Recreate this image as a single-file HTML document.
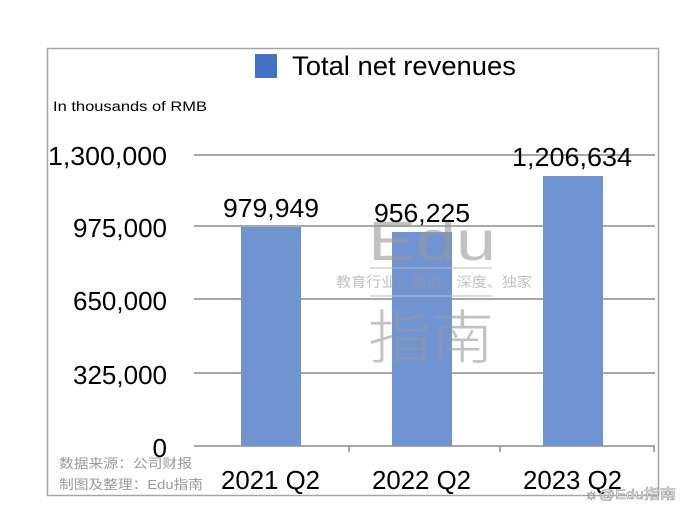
<!DOCTYPE html>
<html><head><meta charset="utf-8"><style>
html,body{margin:0;padding:0;background:#fff;width:692px;height:522px;overflow:hidden}
svg{display:block}
.n{font-family:"Liberation Sans",sans-serif;fill:#000}
.c{font-family:"Liberation Sans","Noto Sans CJK SC",sans-serif}
</style></head><body>
<svg width="692" height="522" viewBox="0 0 692 522">
<rect x="47.5" y="48.5" width="611" height="447" fill="#fff" stroke="#a6a6a6" stroke-width="1.5"/>
<!-- legend -->
<rect x="255" y="54" width="22" height="24" fill="#4472c4"/>
<text class="n" x="292" y="75" font-size="27" textLength="224" lengthAdjust="spacingAndGlyphs">Total net revenues</text>
<text class="n" x="53" y="111" font-size="14" textLength="154" lengthAdjust="spacingAndGlyphs">In thousands of RMB</text>
<!-- gridlines -->
<g stroke="#8c8c8c" stroke-width="1.5">
<line x1="194" y1="155" x2="655" y2="155"/>
<line x1="194" y1="226" x2="655" y2="226"/>
<line x1="194" y1="299" x2="655" y2="299"/>
<line x1="194" y1="373" x2="655" y2="373"/>
<line x1="194" y1="446" x2="655" y2="446"/>
<line x1="349" y1="446" x2="349" y2="452"/>
<line x1="500" y1="446" x2="500" y2="452"/>
<line x1="654" y1="446" x2="654" y2="452"/>
</g>
<!-- bars -->
<g fill="#7094d1">
<rect x="241" y="227" width="60" height="219"/>
<rect x="392" y="232" width="60" height="214"/>
<rect x="543" y="176" width="60" height="270"/>
</g>
<!-- watermark -->
<g fill="#999" opacity="0.6">
<text class="c" x="368" y="260" font-size="56" textLength="128" lengthAdjust="spacingAndGlyphs" font-weight="300">Edu</text>
<text class="c" x="336" y="287" font-size="14" textLength="196" lengthAdjust="spacingAndGlyphs">教育行业，前沿、深度、独家</text>
<text class="c" x="368" y="358" font-size="58" textLength="126" lengthAdjust="spacingAndGlyphs" font-weight="300">指南</text>
</g>
<g stroke="#bbb" stroke-width="1"><line x1="370" y1="268" x2="492" y2="268"/><line x1="370" y1="296" x2="492" y2="296"/></g>
<!-- y labels -->
<g class="n" font-size="26" text-anchor="end">
<text x="167" y="165" textLength="119" lengthAdjust="spacingAndGlyphs">1,300,000</text>
<text x="167" y="237" textLength="94" lengthAdjust="spacingAndGlyphs">975,000</text>
<text x="167" y="310" textLength="94" lengthAdjust="spacingAndGlyphs">650,000</text>
<text x="167" y="384" textLength="94" lengthAdjust="spacingAndGlyphs">325,000</text>
<text x="167" y="457">0</text>
</g>
<!-- value labels -->
<g class="n" font-size="26">
<text x="223" y="217" textLength="96" lengthAdjust="spacingAndGlyphs">979,949</text>
<text x="374" y="222" textLength="96" lengthAdjust="spacingAndGlyphs">956,225</text>
<text x="512" y="166" textLength="120" lengthAdjust="spacingAndGlyphs">1,206,634</text>
</g>
<!-- x labels -->
<g class="n" font-size="26">
<text x="221" y="489" textLength="99" lengthAdjust="spacingAndGlyphs">2021 Q2</text>
<text x="372" y="489" textLength="99" lengthAdjust="spacingAndGlyphs">2022 Q2</text>
<text x="523" y="489" textLength="99" lengthAdjust="spacingAndGlyphs">2023 Q2</text>
</g>
<!-- source -->
<g class="c" fill="#999" font-size="13">
<text x="59" y="468" textLength="133" lengthAdjust="spacingAndGlyphs">数据来源：公司财报</text>
<text x="59" y="489" textLength="144" lengthAdjust="spacingAndGlyphs">制图及整理：Edu指南</text>
</g>
<text class="c" x="584" y="499" font-size="14" fill="#fff" stroke="#999" stroke-width="0.6" textLength="92" lengthAdjust="spacingAndGlyphs">☼@Edu指南</text>
</svg>
</body></html>
